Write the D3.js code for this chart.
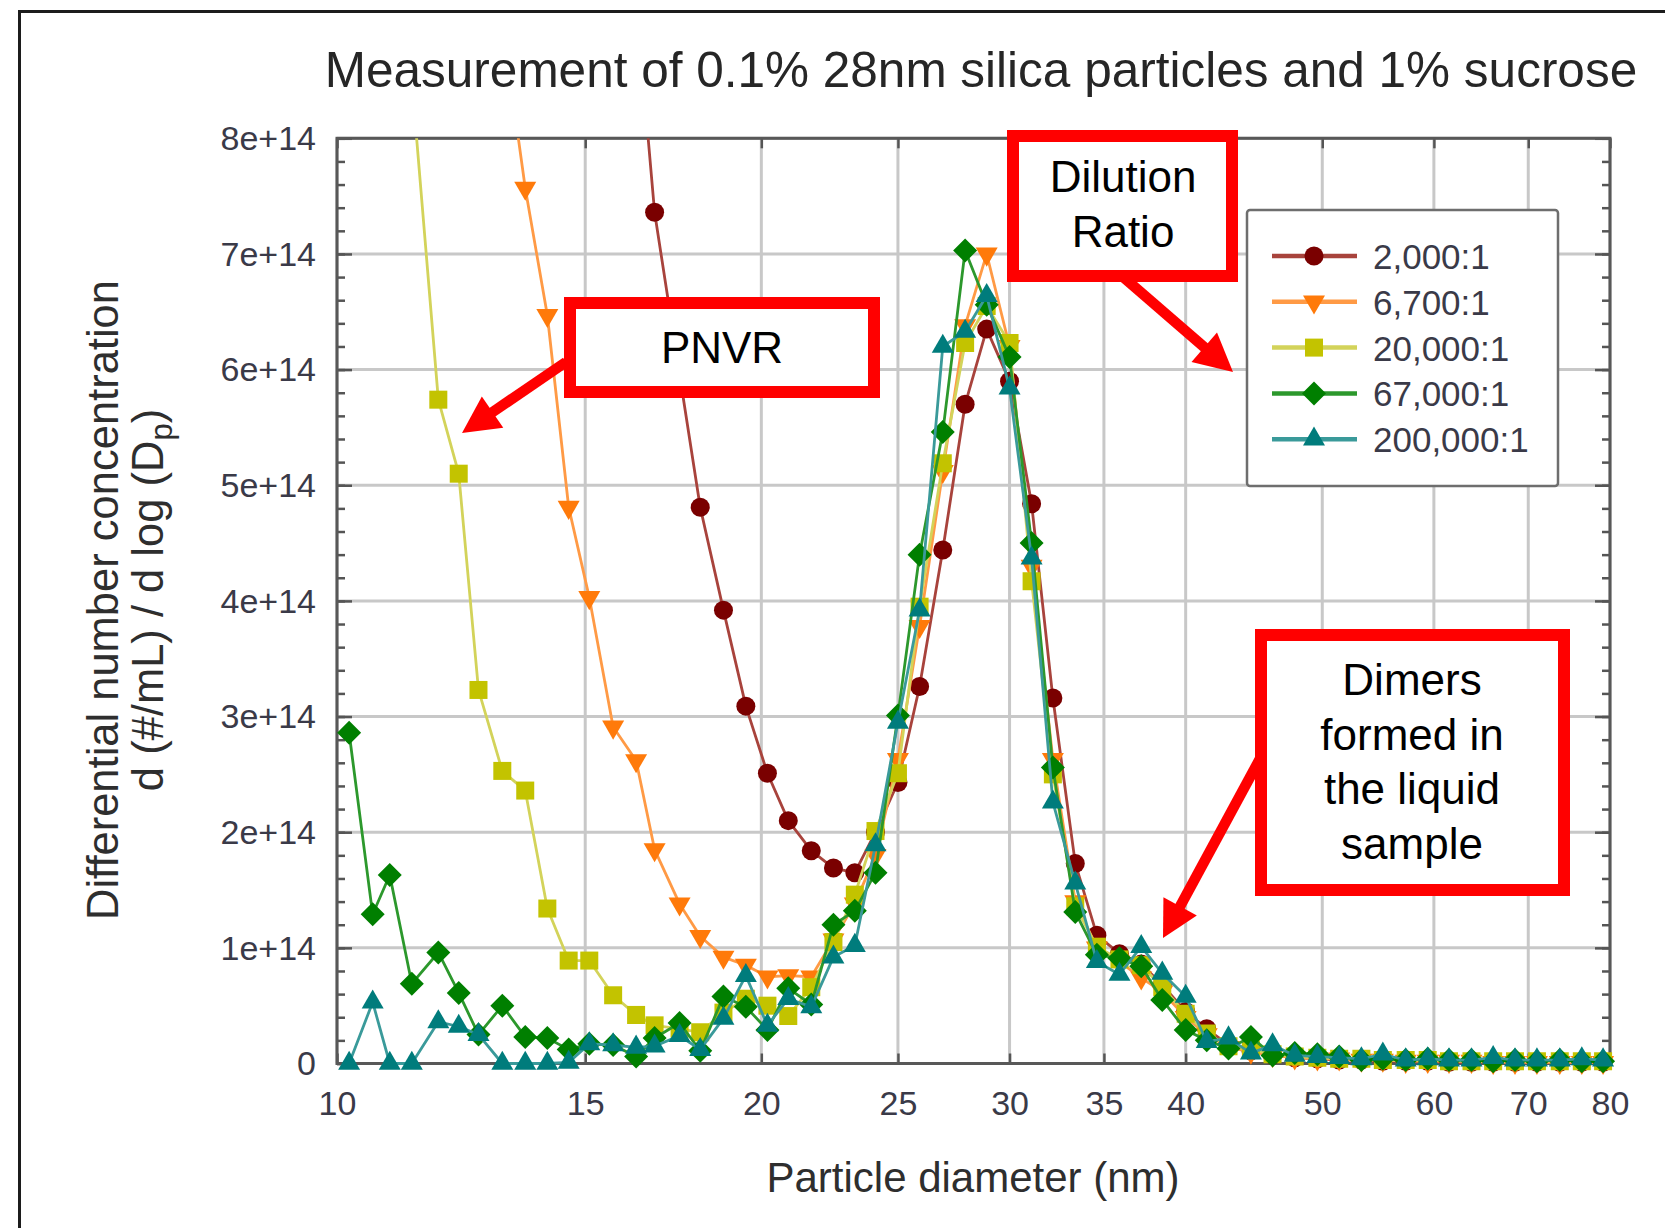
<!DOCTYPE html>
<html>
<head>
<meta charset="utf-8">
<script src="https://cdn.jsdelivr.net/npm/d3@7"></script>
<style>
  html, body { margin: 0; padding: 0; background: #ffffff; }
  svg { display: block; }
  text { font-family: "Liberation Sans", Arial, Helvetica, sans-serif; }
</style>
</head>
<body>
<svg id="chart" width="1665" height="1228"></svg>
<script>
// ---- Data -------------------------------------------------------------
// SMPS channel midpoints (nm), 64 channels per decade
const diameters = [
  10.2, 10.6, 10.9, 11.3, 11.8, 12.2, 12.6, 13.1, 13.6, 14.1,
  14.6, 15.1, 15.7, 16.3, 16.8, 17.5, 18.1, 18.8, 19.5, 20.2,
  20.9, 21.7, 22.5, 23.3, 24.1, 25.0, 25.9, 26.9, 27.9, 28.9,
  30.0, 31.1, 32.2, 33.4, 34.6, 35.9, 37.2, 38.5, 40.0, 41.4,
  42.9, 44.5, 46.1, 47.8, 49.6, 51.4, 53.3, 55.2, 57.3, 59.4,
  61.5, 63.8, 66.1, 68.5, 71.0, 73.7, 76.4, 79.1
];

const seriesNames = ["2,000:1", "6,700:1", "20,000:1", "67,000:1", "200,000:1"];

// dN/dlogDp in units of 1e14 per mL; null = off scale (not shown)
const ratio2000 = [
  null, null, null, null, null, null, null, null, null, null,
  null, null, null, 9.2, 7.36, 5.96, 4.81, 3.92, 3.09, 2.51,
  2.10, 1.84, 1.69, 1.65, 2.00, 2.43, 3.26, 4.44, 5.70, 6.35,
  5.90, 4.84, 3.16, 1.73, 1.11, 0.95, 0.86, 0.68, 0.45, 0.30,
  0.16, 0.11, 0.07, 0.05, 0.04, 0.03, 0.03, 0.02, 0.02, 0.02,
  0.01, 0.01, 0.01, 0.01, 0.01, 0.01, 0.01, 0.01
];
const ratio6700 = [
  null, null, null, null, null, null, null, 9.0, 7.57, 6.47,
  4.81, 4.03, 2.91, 2.62, 1.85, 1.38, 1.10, 0.92, 0.85, 0.75,
  0.76, 0.75, 1.07, 1.38, 1.80, 2.63, 3.78, 5.12, 6.38, 7.00,
  6.20, 4.30, 2.63, 1.40, 1.00, 0.88, 0.74, 0.62, 0.40, 0.25,
  0.14, 0.10, 0.07, 0.05, 0.04, 0.04, 0.03, 0.03, 0.02, 0.02,
  0.02, 0.02, 0.01, 0.01, 0.01, 0.01, 0.01, 0.01
];
const ratio20000 = [
  null, null, null, 8.5, 5.74, 5.10, 3.23, 2.53, 2.36, 1.34,
  0.89, 0.89, 0.59, 0.42, 0.33, 0.30, 0.27, 0.44, 0.56, 0.50,
  0.41, 0.66, 1.05, 1.46, 2.01, 2.51, 3.95, 5.19, 6.23, 6.55,
  6.23, 4.17, 2.50, 1.36, 1.01, 0.90, 0.85, 0.66, 0.43, 0.26,
  0.15, 0.12, 0.08, 0.06, 0.05, 0.04, 0.04, 0.03, 0.03, 0.03,
  0.02, 0.02, 0.02, 0.02, 0.02, 0.02, 0.02, 0.02
];
const ratio67000 = [
  2.86, 1.29, 1.63, 0.69, 0.96, 0.61, 0.25, 0.50, 0.23, 0.22,
  0.12, 0.17, 0.16, 0.06, 0.22, 0.35, 0.11, 0.58, 0.49, 0.29,
  0.65, 0.51, 1.20, 1.32, 1.65, 3.01, 4.40, 5.46, 7.03, 6.56,
  6.11, 4.50, 2.56, 1.31, 0.94, 0.91, 0.84, 0.55, 0.29, 0.20,
  0.13, 0.23, 0.07, 0.09, 0.08, 0.06, 0.03, 0.04, 0.03, 0.04,
  0.03, 0.03, 0.02, 0.03, 0.02, 0.03, 0.02, 0.02
];
const ratio200000 = [
  0.00, 0.53, 0.00, 0.00, 0.36, 0.32, 0.25, 0.00, 0.00, 0.00,
  0.01, 0.17, 0.16, 0.14, 0.15, 0.24, 0.12, 0.39, 0.76, 0.33,
  0.56, 0.49, 0.92, 1.02, 1.89, 2.95, 3.92, 6.20, 6.33, 6.64,
  5.84, 4.37, 2.26, 1.56, 0.88, 0.77, 1.01, 0.78, 0.58, 0.19,
  0.22, 0.09, 0.16, 0.07, 0.06, 0.05, 0.04, 0.08, 0.03, 0.04,
  0.03, 0.03, 0.05, 0.03, 0.03, 0.03, 0.04, 0.03
];

const xTickValues = [10, 15, 20, 25, 30, 35, 40, 50, 60, 70, 80];
const yTickValues = [0, 1, 2, 3, 4, 5, 6, 7, 8];
const yMinorValues = d3.range(0, 8.0001, 0.2);

// ---- Styles -----------------------------------------------------------
const seriesStyle = [
  { shape: "circle",  marker: "#7a0000", line: "#a8433c" },
  { shape: "triDown", marker: "#ff7a0a", line: "#ff9a45" },
  { shape: "square",  marker: "#c3c300", line: "#d3d35a" },
  { shape: "diamond", marker: "#007f00", line: "#2c982c" },
  { shape: "triUp",   marker: "#007c7c", line: "#3a9a9a" }
];
const seriesValues = [ratio2000, ratio6700, ratio20000, ratio67000, ratio200000];

function shapePath(kind) {
  switch (kind) {
    case "circle": { const r = 9.5;
      return `M${r},0A${r},${r} 0 1,1 ${-r},0A${r},${r} 0 1,1 ${r},0Z`; }
    case "square": { const s = 9;
      return `M${-s},${-s}H${s}V${s}H${-s}Z`; }
    case "diamond": { const s = 12;
      return `M0,${-s}L${s},0L0,${s}L${-s},0Z`; }
    case "triUp": { const a = 22, h = a * Math.sqrt(3) / 2;
      return `M0,${-2 * h / 3}L${a / 2},${h / 3}L${-a / 2},${h / 3}Z`; }
    case "triDown": { const a = 22, h = a * Math.sqrt(3) / 2;
      return `M0,${2 * h / 3}L${a / 2},${-h / 3}L${-a / 2},${-h / 3}Z`; }
  }
}

// ---- Layout -----------------------------------------------------------
const plot = { left: 337, right: 1610, top: 138.3, bottom: 1063.5 };

const x = d3.scaleLog().domain([10, 80]).range([plot.left, plot.right]);
const y = d3.scaleLinear().domain([0, 8]).range([plot.bottom, plot.top]);

const svg = d3.select("#chart");

svg.append("rect").attr("width", 1665).attr("height", 1228).attr("fill", "#ffffff");

// outer figure frame (left and top edges visible)
svg.append("path")
  .attr("d", "M19.5,1240V11.5H1680")
  .attr("fill", "none").attr("stroke", "#1c1c1c").attr("stroke-width", 3);

// title
svg.append("text")
  .attr("x", 981).attr("y", 87)
  .attr("text-anchor", "middle")
  .attr("font-size", 49.5)
  .attr("fill", "#262626")
  .text("Measurement of 0.1% 28nm silica particles and 1% sucrose");

// grid
const grid = svg.append("g").attr("stroke", "#c8c8c8").attr("stroke-width", 3);
grid.selectAll("line.gx").data(xTickValues).join("line")
  .attr("x1", d => x(d)).attr("x2", d => x(d))
  .attr("y1", plot.top).attr("y2", plot.bottom);
grid.selectAll("line.gy").data(yTickValues).join("line")
  .attr("x1", plot.left).attr("x2", plot.right)
  .attr("y1", d => y(d)).attr("y2", d => y(d));

// axes (ticks point inward)
function styleAxis(g) {
  g.select(".domain").remove();
  g.selectAll(".tick line").attr("stroke", "#555555").attr("stroke-width", 2.5);
  g.selectAll(".tick text").attr("fill", "#3a3a48").attr("font-size", 34)
    .attr("font-family", "'Liberation Sans', Arial, sans-serif");
}
const yFmt = v => v === 0 ? "0" : `${v}e+14`;

svg.append("g").attr("transform", `translate(${plot.left},0)`)
  .call(d3.axisLeft(y).tickValues(yTickValues).tickFormat(yFmt).tickSize(-15).tickPadding(21))
  .call(styleAxis)
  .call(g => g.selectAll(".tick text").attr("dy", "0.33em"));
svg.append("g").attr("transform", `translate(${plot.left},0)`)
  .call(d3.axisLeft(y).tickValues(yMinorValues).tickFormat("").tickSize(-8))
  .call(styleAxis);
svg.append("g").attr("transform", `translate(${plot.right},0)`)
  .call(d3.axisRight(y).tickValues(yTickValues).tickFormat("").tickSize(-15))
  .call(styleAxis);
svg.append("g").attr("transform", `translate(${plot.right},0)`)
  .call(d3.axisRight(y).tickValues(yMinorValues).tickFormat("").tickSize(-8))
  .call(styleAxis);
svg.append("g").attr("transform", `translate(0,${plot.bottom})`)
  .call(d3.axisBottom(x).tickValues(xTickValues).tickFormat(d3.format("d")).tickSize(-10).tickPadding(27))
  .call(styleAxis);
svg.append("g").attr("transform", `translate(0,${plot.top})`)
  .call(d3.axisTop(x).tickValues(xTickValues).tickFormat("").tickSize(-10))
  .call(styleAxis);

// plot frame
svg.append("rect")
  .attr("x", plot.left).attr("y", plot.top)
  .attr("width", plot.right - plot.left).attr("height", plot.bottom - plot.top)
  .attr("fill", "none").attr("stroke", "#585858").attr("stroke-width", 3);

// axis titles
svg.append("text")
  .attr("x", 973).attr("y", 1192)
  .attr("text-anchor", "middle").attr("font-size", 42).attr("fill", "#2e2e2e")
  .text("Particle diameter (nm)");

const yTitle = svg.append("g").attr("fill", "#2e2e2e").attr("font-size", 43.5);
yTitle.append("text")
  .attr("transform", "translate(118,600) rotate(-90)")
  .attr("text-anchor", "middle")
  .text("Differential number concentration");
const yTitle2 = yTitle.append("text")
  .attr("transform", "translate(163,600) rotate(-90)")
  .attr("text-anchor", "middle");
yTitle2.append("tspan").text("d (#/mL) / d log (D");
yTitle2.append("tspan").attr("font-size", 31).attr("dy", 9).text("p");
yTitle2.append("tspan").attr("dy", -9).text(")");

// ---- Data series ------------------------------------------------------
svg.append("clipPath").attr("id", "plotClip")
  .append("rect")
  .attr("x", plot.left - 30).attr("y", plot.top)
  .attr("width", plot.right - plot.left + 60).attr("height", plot.bottom - plot.top + 40);

const dataLayer = svg.append("g").attr("clip-path", "url(#plotClip)");

const line = d3.line()
  .defined(d => d.v !== null)
  .x(d => x(d.d))
  .y(d => y(d.v));

seriesValues.forEach((vals, i) => {
  const st = seriesStyle[i];
  const pts = diameters.map((d, k) => ({ d, v: vals[k] }));
  const g = dataLayer.append("g");
  g.append("path")
    .datum(pts)
    .attr("d", line)
    .attr("fill", "none")
    .attr("stroke", st.line)
    .attr("stroke-width", 2.8)
    .attr("stroke-linejoin", "round");
  g.selectAll("path.mk")
    .data(pts.filter(p => p.v !== null))
    .join("path")
    .attr("class", "mk")
    .attr("d", shapePath(st.shape))
    .attr("transform", p => `translate(${x(p.d)},${y(p.v)})`)
    .attr("fill", st.marker);
});

// ---- Legend -----------------------------------------------------------
const legend = svg.append("g");
legend.append("rect")
  .attr("x", 1247).attr("y", 210).attr("width", 311).attr("height", 276)
  .attr("rx", 3)
  .attr("fill", "#ffffff").attr("stroke", "#6e6e6e").attr("stroke-width", 2.5);
seriesNames.forEach((name, i) => {
  const st = seriesStyle[i];
  const cy = 256 + i * 45.8;
  legend.append("line")
    .attr("x1", 1272).attr("x2", 1357).attr("y1", cy).attr("y2", cy)
    .attr("stroke", st.line).attr("stroke-width", 4.5);
  legend.append("path")
    .attr("d", shapePath(st.shape))
    .attr("transform", `translate(1314,${cy})`)
    .attr("fill", st.marker);
  legend.append("text")
    .attr("x", 1373).attr("y", cy + 13)
    .attr("font-size", 35).attr("fill", "#3a3a48")
    .text(name);
});

// ---- Annotations ------------------------------------------------------
const ann = svg.append("g");
const red = "#ff0000";

function arrow(x1, y1, x2, y2, headLen, headHalf, width) {
  const dx = x2 - x1, dy = y2 - y1, L = Math.hypot(dx, dy);
  const ux = dx / L, uy = dy / L, nx = -uy, ny = ux;
  const bx = x2 - ux * headLen, by = y2 - uy * headLen;
  ann.append("line")
    .attr("x1", x1).attr("y1", y1).attr("x2", bx + ux * 2).attr("y2", by + uy * 2)
    .attr("stroke", red).attr("stroke-width", width);
  ann.append("path")
    .attr("d", `M${x2},${y2}L${bx + nx * headHalf},${by + ny * headHalf}L${bx - nx * headHalf},${by - ny * headHalf}Z`)
    .attr("fill", red);
}

function box(x0, y0, w, h) {
  ann.append("rect")
    .attr("x", x0).attr("y", y0).attr("width", w).attr("height", h)
    .attr("fill", "#ffffff").attr("stroke", red).attr("stroke-width", 12);
}

function label(cx, baseline, lines, step) {
  const t = ann.append("text")
    .attr("text-anchor", "middle").attr("font-size", 44).attr("fill", "#000000");
  lines.forEach((s, i) => {
    t.append("tspan").attr("x", cx).attr("y", baseline + i * step).text(s);
  });
}

// PNVR
arrow(566, 362, 462, 433, 37, 19, 10.5);
box(570, 303, 304, 89);
label(722, 363, ["PNVR"], 0);

// Dilution Ratio
arrow(1122, 276, 1233, 372, 38, 19.5, 10.5);
box(1013, 136, 219, 140);
label(1123, 192, ["Dilution", "Ratio"], 55);

// Dimers
arrow(1262, 755, 1163, 938, 36, 19, 10.5);
box(1261, 635, 303, 255);
label(1412, 695, ["Dimers", "formed in", "the liquid", "sample"], 54.5);
</script>
</body>
</html>
